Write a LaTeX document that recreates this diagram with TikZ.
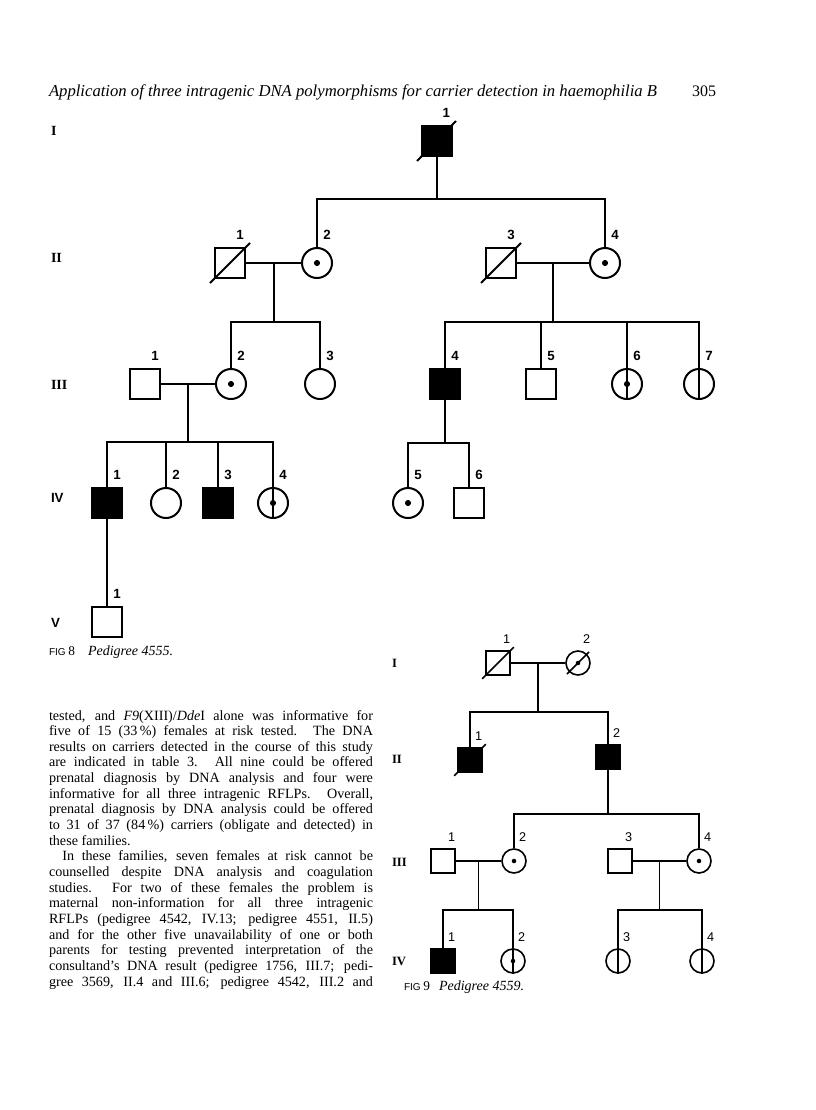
\documentclass[tikz,border=0pt]{standalone}
\usepackage{fontspec}
\setmainfont{Liberation Serif}
\setsansfont{Liberation Sans}
\usetikzlibrary{calc}
\newcommand{\bodyline}[1]{\makebox[243pt][s]{#1}\\}

\begin{document}
\begin{tikzpicture}[
        x=0.75pt, y=-0.75pt,
        line width=1.5pt,
        male/.style={rectangle, draw, minimum size=22.5pt, inner sep=0pt},
        female/.style={circle, draw, minimum size=22.5pt, inner sep=0pt},
        small_male/.style={male, minimum size=18pt, line width=1.2pt},
        small_female/.style={female, minimum size=18pt, line width=1.2pt},
        affected/.style={fill=black},
        carrier/.style={path picture={\fill (path picture bounding box.center) circle (2.3pt);}},
        small_carrier/.style={path picture={\fill (path picture bounding box.center) circle (1.7pt);}},
        num_label/.style={font=\sffamily\bfseries\fontsize{10}{10}\selectfont, anchor=south west, inner sep=0pt, xshift=4pt, yshift=5pt},
        small_num/.style={font=\sffamily\fontsize{9.5}{9.5}\selectfont, anchor=south west, inner sep=0pt, xshift=3pt, yshift=4pt},
        gen_label/.style={font=\bfseries\fontsize{10.5}{10.5}\selectfont, anchor=west, inner sep=0pt},
        small_gen/.style={font=\bfseries\fontsize{9.5}{9.5}\selectfont, anchor=west, inner sep=0pt},
        line_9/.style={line width=1.2pt},
        caption/.style={anchor=base west, inner sep=0pt}
    ]

    % Page
    \fill[white] (0,0) rectangle (816,1110);
    \useasboundingbox (0,0) rectangle (816,1110);

    % Running head
    \node[caption, font=\itshape\fontsize{12.5}{13}\selectfont] (head) at (48,96) {Application of three intragenic DNA polymorphisms for carrier detection in haemophilia B};
    \node[anchor=base east, inner sep=0pt, font=\fontsize{12}{13}\selectfont] (page) at (717,96) {305};

    % ---------------- Fig 8 ----------------
    \node[gen_label] (A-gI) at (50,131) {I};
    \node[gen_label] (A-gII) at (50,258) {II};
    \node[gen_label] (A-gIII) at (50,385) {III};
    \node[gen_label, font=\sffamily\bfseries\fontsize{10}{10}\selectfont] (A-gIV) at (50,498) {IV};
    \node[gen_label, font=\sffamily\bfseries\fontsize{10}{10}\selectfont] (A-gV) at (50,623) {V};

    % Generation I
    \node[male, affected, label={[num_label, anchor=south, xshift=3pt]north:1}] (A-I-1) at (437,141) {};
    \coordinate (A-s2) at (437,199);
    \draw (A-I-1) -- (A-s2);
    \draw ([shift={(-4,4)}]A-I-1.south west) -- ([shift={(3,-4)}]A-I-1.north east);

    % Generation II
    \node[male, label={[num_label]north:1}] (A-II-1) at (230,263) {};
    \node[female, carrier, label={[num_label]north:2}] (A-II-2) at (317,263) {};
    \node[male, label={[num_label]north:3}] (A-II-3) at (501,263) {};
    \node[female, carrier, label={[num_label]north:4}] (A-II-4) at (605,263) {};
    \draw (A-II-2.north) |- (A-s2) -| (A-II-4.north);
    \draw ([shift={(-4,4)}]A-II-1.south west) -- ([shift={(4,-4)}]A-II-1.north east);
    \draw ([shift={(-4,4)}]A-II-3.south west) -- ([shift={(4,-4)}]A-II-3.north east);
    \draw (A-II-1) -- coordinate (A-m2a) (A-II-2);
    \draw (A-II-3) -- coordinate (A-m2b) (A-II-4);
    \draw (A-m2a) -- ++(0,59) coordinate (A-s3a);
    \draw (A-m2b) -- ++(0,59) coordinate (A-s3b);

    % Generation III
    \node[male, label={[num_label]north:1}] (A-III-1) at (145,384) {};
    \node[female, carrier, label={[num_label]north:2}] (A-III-2) at (231,384) {};
    \node[female, label={[num_label]north:3}] (A-III-3) at (320,384) {};
    \node[male, affected, label={[num_label]north:4}] (A-III-4) at (445,384) {};
    \node[male, label={[num_label]north:5}] (A-III-5) at (541,384) {};
    \node[female, carrier, label={[num_label]north:6}] (A-III-6) at (627,384) {};
    \node[female, label={[num_label]north:7}] (A-III-7) at (699,384) {};
    \draw (A-III-2.north) |- (A-s3a) -| (A-III-3.north);
    \draw (A-III-4.north) |- (A-s3b) -| (A-III-7.south);
    \draw (A-III-5.north) -- (A-III-5 |- A-s3b);
    \draw (A-III-6.south) -- (A-III-6 |- A-s3b);
    \draw (A-III-1) -- coordinate (A-m3) (A-III-2);
    \draw (A-m3) -- ++(0,58) coordinate (A-s4a);
    \draw (A-III-4.south) -- ++(0,43) coordinate (A-s4b);

    % Generation IV
    \node[male, affected, label={[num_label]north:1}] (A-IV-1) at (107,503) {};
    \node[female, label={[num_label]north:2}] (A-IV-2) at (166,503) {};
    \node[male, affected, label={[num_label]north:3}] (A-IV-3) at (218,503) {};
    \node[female, carrier, label={[num_label]north:4}] (A-IV-4) at (273,503) {};
    \node[female, carrier, label={[num_label]north:5}] (A-IV-5) at (408,503) {};
    \node[male, label={[num_label]north:6}] (A-IV-6) at (469,503) {};
    \draw (A-IV-1.north) |- (A-s4a) -| (A-IV-4.south);
    \draw (A-IV-2.north) -- (A-IV-2 |- A-s4a);
    \draw (A-IV-3.north) -- (A-IV-3 |- A-s4a);
    \draw (A-IV-5.north) |- (A-s4b) -| (A-IV-6.north);

    % Generation V
    \node[male, label={[num_label]north:1}] (A-V-1) at (107,622) {};
    \draw (A-IV-1) -- (A-V-1);

    \node[caption] (A-fig) at (48,655) {{\sffamily\fontsize{7.5}{8}\selectfont FIG}\hspace{2pt}{\fontsize{10}{10}\selectfont 8}};
    \node[caption, font=\itshape\fontsize{10.5}{11}\selectfont] (A-cap) at (87,655) {Pedigree 4555.};

    % ---------------- Body text ----------------
    \node[anchor=base west, inner sep=0pt] (body) at (48,720) {\parbox[t]{243pt}{\fontsize{10.6}{11.74}\selectfont
        \bodyline{tested, and \textit{F9}(XIII)/\textit{Dde}I alone was informative for}
        \bodyline{five of 15 (33\,\%) females at risk tested. The DNA}
        \bodyline{results on carriers detected in the course of this study}
        \bodyline{are indicated in table 3. All nine could be offered}
        \bodyline{prenatal diagnosis by DNA analysis and four were}
        \bodyline{informative for all three intragenic RFLPs. Overall,}
        \bodyline{prenatal diagnosis by DNA analysis could be offered}
        \bodyline{to 31 of 37 (84\,\%) carriers (obligate and detected) in}
        these families.\\
        \bodyline{\hspace*{10pt}In these families, seven females at risk cannot be}
        \bodyline{counselled despite DNA analysis and coagulation}
        \bodyline{studies. For two of these females the problem is}
        \bodyline{maternal non-information for all three intragenic}
        \bodyline{RFLPs (pedigree 4542, IV.13; pedigree 4551, II.5)}
        \bodyline{and for the other five unavailability of one or both}
        \bodyline{parents for testing prevented interpretation of the}
        \bodyline{consultand's DNA result (pedigree 1756, III.7; pedi-}
        \makebox[243pt][s]{gree 3569, II.4 and III.6; pedigree 4542, III.2 and}}};

    % ---------------- Fig 9 ----------------
    \node[small_gen] (B-gI) at (391,663) {I};
    \node[small_gen] (B-gII) at (391,759) {II};
    \node[small_gen] (B-gIII) at (391,862) {III};
    \node[small_gen] (B-gIV) at (391,961) {IV};

    % Generation I
    \node[small_male, label={[small_num]north:1}] (B-I-1) at (498,663) {};
    \node[small_female, small_carrier, label={[small_num]north:2}] (B-I-2) at (578,663) {};
    \draw[line_9] ([shift={(-3,3)}]B-I-1.south west) -- ([shift={(3,-3)}]B-I-1.north east);
    \draw[line_9] ([shift={(-2,2)}]B-I-2.south west) -- ([shift={(2,-2)}]B-I-2.north east);
    \draw[line_9] (B-I-1) -- coordinate (B-m1) (B-I-2);
    \draw[line_9] (B-m1) -- ++(0,49) coordinate (B-s2);

    % Generation II
    \node[small_male, affected, label={[small_num]north:1}] (B-II-1) at (470,760) {};
    \node[small_male, affected, label={[small_num]north:2}] (B-II-2) at (608,757) {};
    \draw[line_9] (B-II-1.north) |- (B-s2) -| (B-II-2.north);
    \draw[line_9] ([shift={(-3,3)}]B-II-1.south west) -- ([shift={(3,-3)}]B-II-1.north east);
    \draw[line_9] (B-II-2.south) -- ++(0,44) coordinate (B-s3);

    % Generation III
    \node[small_male, label={[small_num]north:1}] (B-III-1) at (443,861) {};
    \node[small_female, small_carrier, label={[small_num]north:2}] (B-III-2) at (514,861) {};
    \node[small_male, label={[small_num]north:3}] (B-III-3) at (620,861) {};
    \node[small_female, small_carrier, label={[small_num]north:4}] (B-III-4) at (699,861) {};
    \draw[line_9] (B-III-2.north) |- (B-s3) -| (B-III-4.north);
    \draw[line_9] (B-III-1) -- coordinate (B-m3a) (B-III-2);
    \draw[line_9] (B-III-3) -- coordinate (B-m3b) (B-III-4);
    \draw[line_9] (B-m3a) -- ++(0,49) coordinate (B-s4a);
    \draw[line_9] (B-m3b) -- ++(0,49) coordinate (B-s4b);

    % Generation IV
    \node[small_male, affected, label={[small_num]north:1}] (B-IV-1) at (443,961) {};
    \node[small_female, small_carrier, label={[small_num]north:2}] (B-IV-2) at (513,961) {};
    \node[small_female, label={[small_num]north:3}] (B-IV-3) at (618,961) {};
    \node[small_female, label={[small_num]north:4}] (B-IV-4) at (702,961) {};
    \draw[line_9] (B-IV-1.north) |- (B-s4a) -| (B-IV-2.south);
    \draw[line_9] (B-IV-3.south) |- (B-s4b) -| (B-IV-4.south);

    \node[caption] (B-fig) at (403,990) {{\sffamily\fontsize{7.5}{8}\selectfont FIG}\hspace{2pt}{\fontsize{10}{10}\selectfont 9}};
    \node[caption, font=\itshape\fontsize{10.5}{11}\selectfont] (B-cap) at (438,990) {Pedigree 4559.};

\end{tikzpicture}
\end{document}
